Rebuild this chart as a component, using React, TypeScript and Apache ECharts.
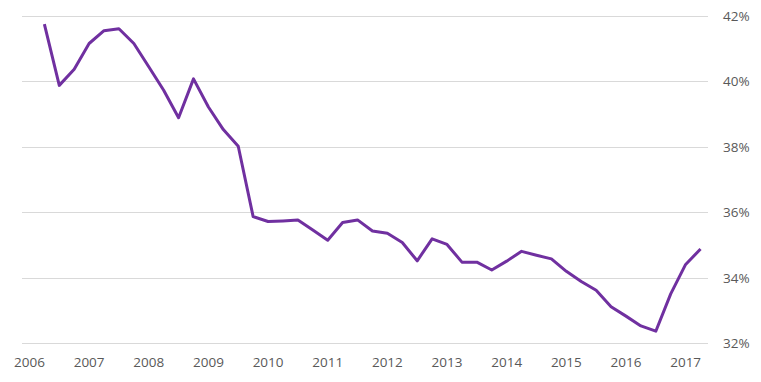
import React, { useEffect, useRef } from "react";
import * as echarts from "echarts";

const years = ["2006", "2007", "2008", "2009", "2010", "2011", "2012", "2013", "2014", "2015", "2016", "2017"];
const quarters = ["Q1", "Q2", "Q3", "Q4"];
// quarterly categories 2006 Q1 .. 2017 Q2
const categories: string[] = [];
years.forEach((y) => quarters.forEach((q) => categories.push(y + " " + q)));
categories.splice(46);

// share (%), first quarter has no value
const values: (number | null)[] = [
  null, 41.75, 39.88, 40.37, 41.16, 41.55, 41.61, 41.16, 40.45, 39.73,
  38.89, 40.08, 39.22, 38.53, 38.02, 35.87, 35.72, 35.74, 35.77, 35.46,
  35.15, 35.69, 35.77, 35.43, 35.36, 35.08, 34.52, 35.19, 35.02, 34.48,
  34.48, 34.24, 34.51, 34.81, 34.69, 34.58, 34.2, 33.89, 33.62, 33.12,
  32.83, 32.53, 32.37, 33.51, 34.41, 34.88,
];

const yMin = 32;
const yMax = 42;
const yStep = 2;

export default function App() {
  const ref = useRef<HTMLDivElement>(null);
  useEffect(() => {
    if (!ref.current) return;
    const chart = echarts.init(ref.current, null, { renderer: "svg" });
    chart.setOption({
      animation: false,
      grid: { left: 22, right: 53, top: 16, bottom: 38.7 },
      xAxis: {
        type: "category",
        data: categories,
        boundaryGap: true,
        axisLine: { show: false },
        axisTick: { show: false },
        axisLabel: {
          interval: 3,
          margin: 12,
          color: "#595959",
          fontFamily: "Open Sans",
          fontSize: 13.5,
          formatter: (v: string) => v.split(" ")[0],
        },
        splitLine: { show: false },
      },
      yAxis: {
        type: "value",
        position: "right",
        min: yMin,
        max: yMax,
        interval: yStep,
        axisLine: { show: false },
        axisTick: { show: false },
        axisLabel: {
          margin: 15,
          color: "#595959",
          fontFamily: "Open Sans",
          fontSize: 13.5,
          formatter: (v: number) => v + "%",
        },
        splitLine: { lineStyle: { color: "#d9d9d9", width: 1 } },
      },
      series: [
        {
          type: "line",
          data: values,
          showSymbol: false,
          symbol: "none",
          lineStyle: { color: "#7030a0", width: 3, join: "round" },
          itemStyle: { color: "#7030a0" },
        },
      ],
    });
    return () => chart.dispose();
  }, []);
  return <div ref={ref} style={{ width: 761, height: 382, position: "absolute", left: 0, top: 0 }} />;
}
